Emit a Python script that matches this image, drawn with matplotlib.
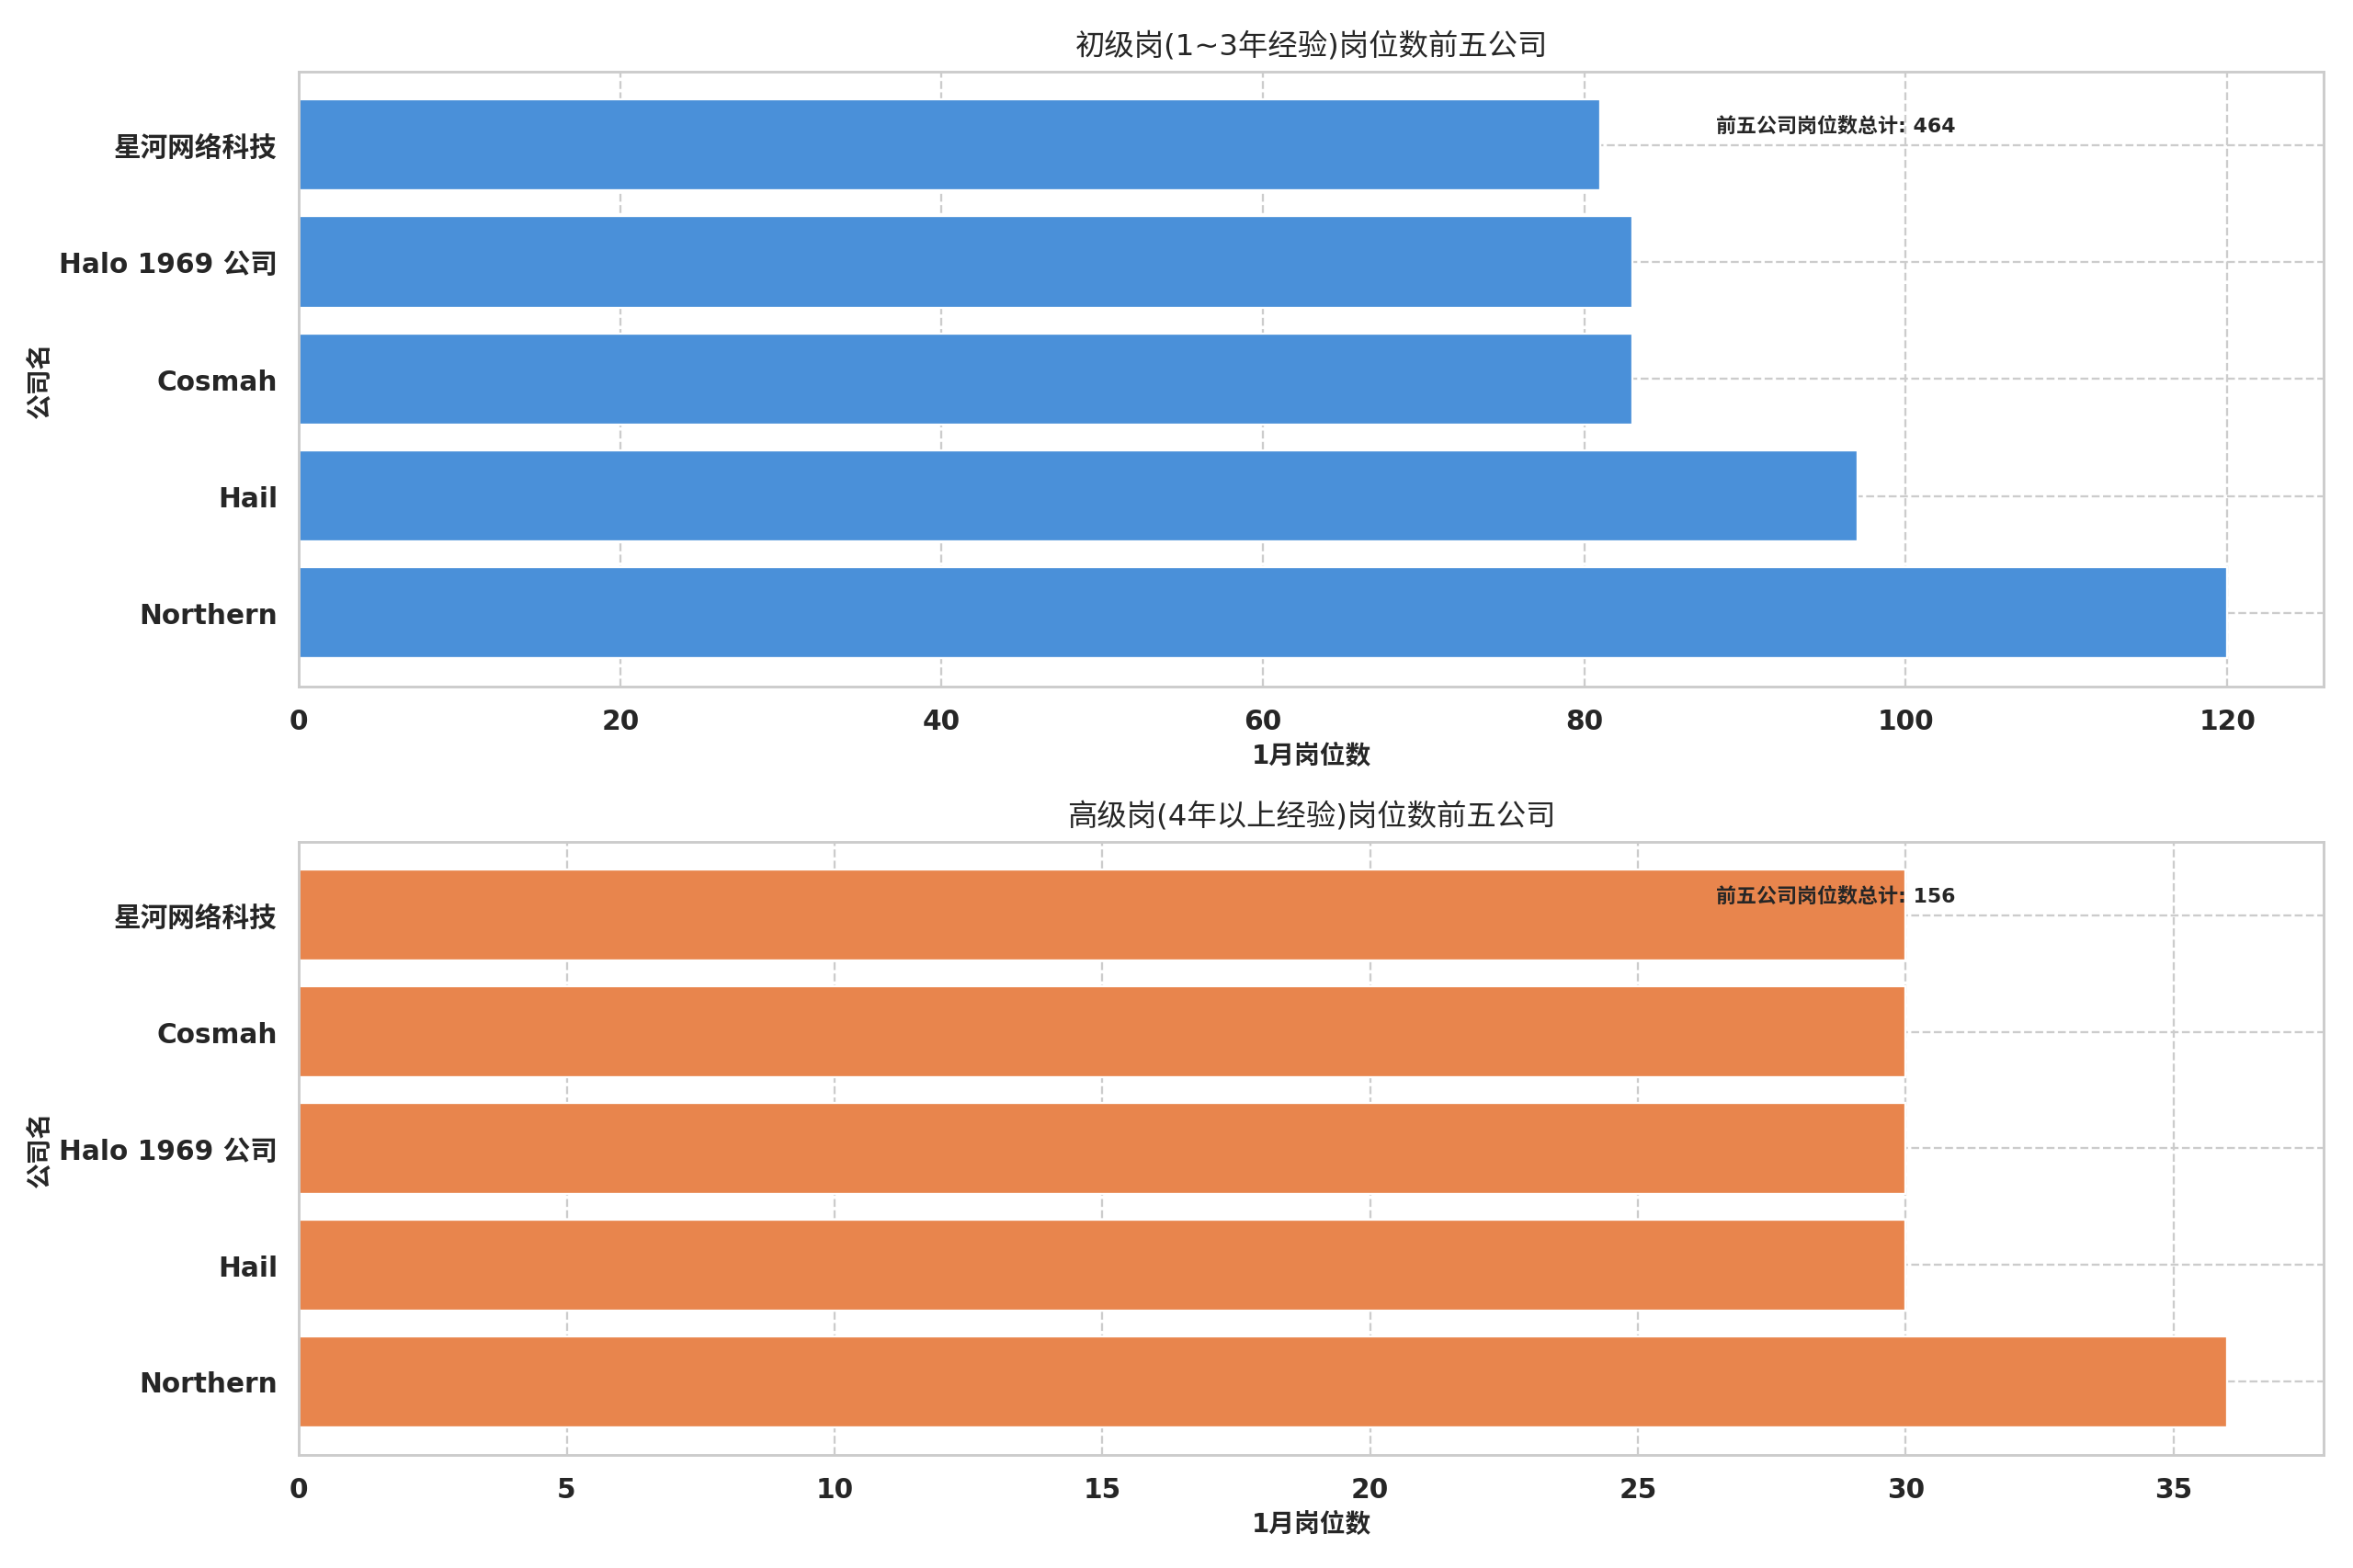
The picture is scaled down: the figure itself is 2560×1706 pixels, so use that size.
import matplotlib
matplotlib.use("Agg")
import matplotlib.pyplot as plt
import seaborn as sns

sns.set_theme(style="whitegrid")
plt.rcParams['font.family'] = ['DejaVu Sans', 'Noto Sans CJK SC']

# data
junior_companies = ["Northern", "Hail", "Cosmah", "Halo 1969 公司", "星河网络科技"]
junior_counts = [120, 97, 83, 83, 81]
senior_companies = ["Northern", "Hail", "Halo 1969 公司", "Cosmah", "星河网络科技"]
senior_counts = [36, 30, 30, 30, 30]

title_junior = "初级岗(1~3年经验)岗位数前五公司"
title_senior = "高级岗(4年以上经验)岗位数前五公司"
xlabel = "1月岗位数"
ylabel = "公司名"
note_label = "前五公司岗位数总计"

fig = plt.figure(figsize=(15.36, 10.24), dpi=166.67)
ax1 = fig.add_axes([0.127, 0.562, 0.8605, 0.392])
ax2 = fig.add_axes([0.127, 0.072, 0.8605, 0.391])

for ax, cats, vals, color, title in [
    (ax1, junior_companies, junior_counts, "#4A90D9", title_junior),
    (ax2, senior_companies, senior_counts, "#E8854D", title_senior),
]:
    ax.barh(cats, vals, color=color, height=0.78, zorder=2)
    ax.set_axisbelow(True)
    ax.grid(True, linestyle="--", color="#cccccc", linewidth=1.0)
    ax.set_title(title, fontsize=14, pad=8)
    ax.set_xlabel(xlabel, fontsize=12, fontweight="bold")
    ax.set_ylabel(ylabel, fontsize=12, fontweight="bold")
    ax.yaxis.set_label_coords(-0.121, 0.5)
    for lab in ax.get_xticklabels() + ax.get_yticklabels():
        lab.set_fontweight("bold")
        lab.set_fontsize(12.8)
    ax.tick_params(axis="both", pad=4)
    ax.text(0.70, 0.912, f"{note_label}: {sum(vals)}", transform=ax.transAxes,
            ha="left", va="center", fontsize=9.5, fontweight="bold", color="#262626")
    for s in ax.spines.values():
        s.set_color("#cccccc")

fig.savefig("out.png", dpi=166.67)
